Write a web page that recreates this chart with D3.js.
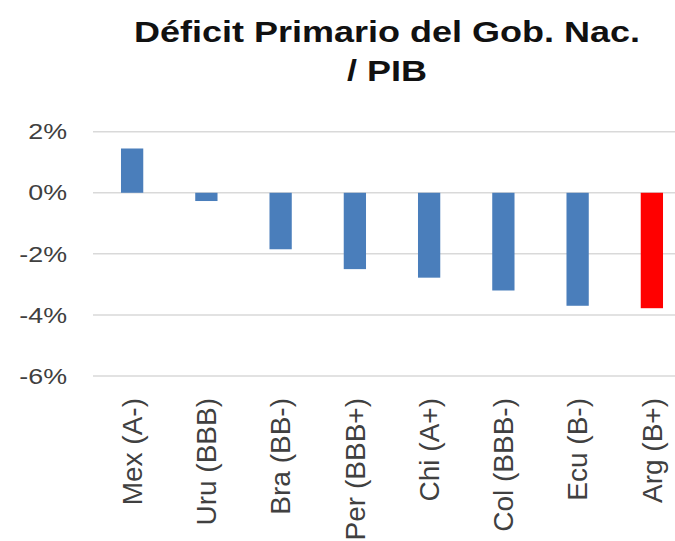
<!DOCTYPE html>
<html lang="es">
<head>
    <meta charset="UTF-8" />
    <title>Déficit Primario del Gob. Nac. / PIB</title>
    <script src="https://d3js.org/d3.v7.min.js"></script>
    <style>
        body { margin: 0; background: #fff; }
        .title { font-family: "Liberation Sans", Arial, sans-serif; font-weight: bold; fill: #111; }
        .tick-label { font-family: "Liberation Sans", Arial, sans-serif; fill: #404040; }
        .cat-label { font-family: "Liberation Sans", Arial, sans-serif; fill: #404040; }
        .grid { stroke: #d9d9d9; stroke-width: 1.5; }
    </style>
</head>
<body>
    <div id="chart"></div>

    <script>
        var width = 675, height = 541;

        // datos
        const paises = ["Mex (A-)", "Uru (BBB)", "Bra (BB-)", "Per (BBB+)", "Chi (A+)", "Col (BBB-)", "Ecu (B-)", "Arg (B+)"];
        const deficit = [1.45, -0.27, -1.85, -2.5, -2.78, -3.2, -3.7, -3.78];
        const colores = ["#4a7ebb", "#4a7ebb", "#4a7ebb", "#4a7ebb", "#4a7ebb", "#4a7ebb", "#4a7ebb", "#ff0000"];
        const ticks = [2, 0, -2, -4, -6];

        let svg = d3.select("#chart")
            .append("svg")
            .attr("width", width)
            .attr("height", height);

        // escalas
        let x = d3.scaleBand()
            .domain(paises)
            .range([95, 689])
            .paddingInner(0.7)
            .paddingOuter(0.35);

        let y = d3.scaleLinear()
            .domain([-6, 2])
            .range([376, 131.7]);

        // titulo (la imagen esta estirada en horizontal)
        const titulo = ["Déficit Primario del Gob. Nac.", "/ PIB"];
        svg.selectAll(".title")
            .data(titulo)
            .enter()
            .append("text")
            .attr("class", "title")
            .attr("text-anchor", "middle")
            .attr("font-size", 30)
            .attr("transform", (d, i) => "translate(387," + (42 + i * 39) + ") scale(1.2,1)")
            .text(d => d);

        // lineas de grilla
        svg.selectAll(".grid")
            .data(ticks)
            .enter()
            .append("line")
            .attr("class", "grid")
            .attr("x1", 93)
            .attr("x2", width)
            .attr("y1", d => y(d))
            .attr("y2", d => y(d));

        // etiquetas eje y
        svg.selectAll(".tick-label")
            .data(ticks)
            .enter()
            .append("text")
            .attr("class", "tick-label")
            .attr("text-anchor", "end")
            .attr("dy", "0.35em")
            .attr("font-size", 22)
            .attr("transform", d => "translate(67," + y(d) + ") scale(1.22,1)")
            .text(d => d + "%");

        // barras
        svg.selectAll(".bar")
            .data(deficit)
            .enter()
            .append("rect")
            .attr("class", "bar")
            .attr("x", (d, i) => x(paises[i]))
            .attr("width", x.bandwidth())
            .attr("y", d => y(Math.max(0, d)))
            .attr("height", d => Math.abs(y(d) - y(0)))
            .attr("fill", (d, i) => colores[i]);

        // etiquetas categorias (rotadas)
        svg.selectAll(".cat-label")
            .data(paises)
            .enter()
            .append("text")
            .attr("class", "cat-label")
            .attr("text-anchor", "end")
            .attr("dy", "0.35em")
            .attr("font-size", 28)
            .attr("transform", d => "translate(" + (x(d) + x.bandwidth() / 2) + ",398) rotate(-90)")
            .text(d => d);
    </script>
</body>
</html>
